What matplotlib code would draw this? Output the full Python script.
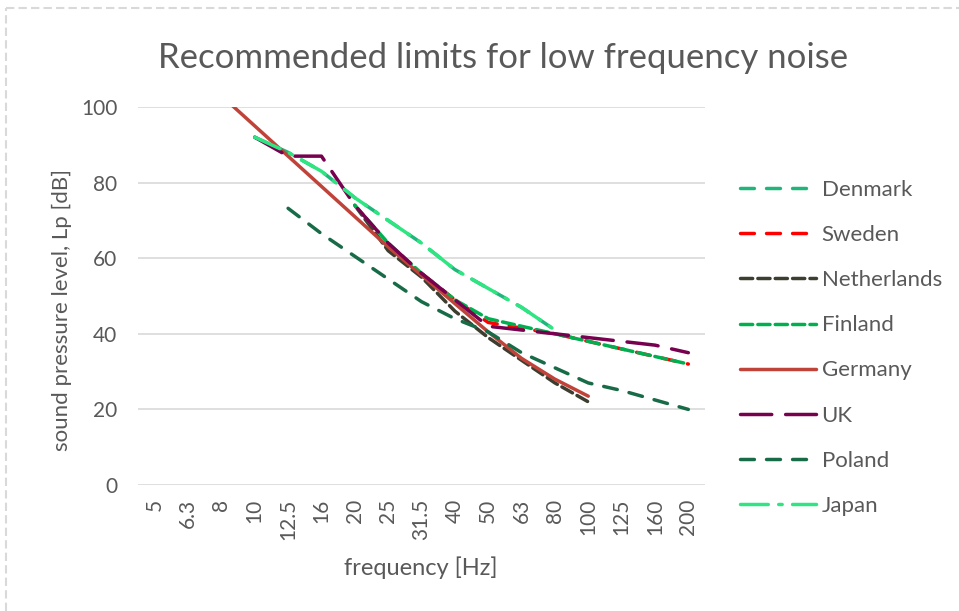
import numpy as np
import matplotlib
matplotlib.use("Agg")
import matplotlib.pyplot as plt
from matplotlib.lines import Line2D

nan = np.nan
freqs = ["5", "6.3", "8", "10", "12.5", "16", "20", "25", "31.5", "40",
         "50", "63", "80", "100", "125", "160", "200"]

#          5    6.3  8    10   12.5 16   20   25   31.5 40   50   63   80   100  125  160  200
denmark = [nan, nan, nan, 92,  88,  83,  76,  70,  64,  57,  52,  47,  41,  nan, nan, nan, nan]
sweden = [nan, nan, nan, nan, nan, nan, nan, nan, 56,  49,  43,  41.5, 40, 38,  36,  34,  32]
netherlands = [nan, nan, nan, nan, nan, nan, 74, 62,  55,  46,  39,  33,  27,  22,  nan, nan, nan]
finland = [nan, nan, nan, nan, nan, nan, 74,  64,  56,  49,  44,  42,  40,  38,  36,  34,  32]
germany = [nan, nan, 103, 95,  87,  79,  71,  63,  55.5, 48, 40.5, 33.5, 28, 23.5, nan, nan, nan]
uk = [nan, nan, nan, 92,  87,  87,  74,  64,  56,  49,  42,  41,  40,  39,  38,  37,  35]
poland = [nan, nan, nan, nan, 73.2, 66.5, 60.5, 54.5, 48.5, 44, 40.5, 35, 31, 27, 25, 22.5, 20]
japan = [nan, nan, nan, 92,  88,  83,  76,  70,  64,  57,  52,  47,  41,  nan, nan, nan, nan]

names = ["Denmark", "Sweden", "Netherlands", "Finland", "Germany", "UK", "Poland", "Japan"]
series = [denmark, sweden, netherlands, finland, germany, uk, poland, japan]
colors = ["#1FB67B", "#FF0000", "#3D3D30", "#00B050", "#C0433A", "#77004F", "#186B47", "#2EE582"]
dashes = [(4, 3.5), (4, 3.5), (3.5, 1.5), (3.5, 1.5), None, (9, 4), (4, 3.5), (8, 3, 1, 3)]

plt.rcParams['font.family'] = ['Lato', 'DejaVu Sans']
txt = "#595959"

fig = plt.figure(figsize=(9.59, 6.11), dpi=100)
ax = fig.add_axes([138 / 959, 1 - 485 / 611, (705 - 138) / 959, (485 - 107) / 611])

x = np.arange(len(freqs))
lw = 2.5
for name, ys, c, d in zip(names, series, colors, dashes):
    if d is None:
        ax.plot(x, ys, color=c, lw=lw, solid_capstyle='round', label=name)
    else:
        ax.plot(x, ys, color=c, lw=lw, dashes=d, dash_capstyle='round', label=name)

ax.set_xlim(-0.5, len(freqs) - 0.5)
ax.set_ylim(0, 100)
ax.set_yticks(range(0, 101, 20))
ax.set_xticks(x)
ax.set_xticklabels(freqs, rotation=90)
ax.grid(axis='y', color='#D9D9D9', lw=1.2)
ax.set_axisbelow(True)
for s in ax.spines.values():
    s.set_visible(False)
ax.tick_params(length=0, labelsize=15, colors=txt)
ax.tick_params(axis='y', pad=15)
ax.tick_params(axis='x', pad=10)

ax.set_xlabel("frequency [Hz]", fontsize=17, color=txt)
ax.set_ylabel("sound pressure level, Lp [dB]", fontsize=16, color=txt)
ax.xaxis.set_label_coords(0.499, -0.19)
ax.yaxis.set_label_coords(-0.116, 0.463)
fig.text(0.525, 1 - 58 / 611, "Recommended limits for low frequency noise",
         ha='center', va='center', fontsize=25, color=txt)

handles = []
for name, c, d in zip(names, colors, dashes):
    if d is None:
        handles.append(Line2D([], [], color=c, lw=lw, solid_capstyle='round'))
    else:
        handles.append(Line2D([], [], color=c, lw=lw, dashes=d, dash_capstyle='round'))
leg = fig.legend(handles, names, loc='upper left', bbox_to_anchor=(720 / 959, 1 - 160 / 611),
                 frameon=False, fontsize=16, handlelength=3.4, handletextpad=0.27,
                 labelspacing=1.13, labelcolor=txt)

# dashed chart border (top and left)
fig.add_artist(Line2D([6 / 959, 1], [1 - 8 / 611, 1 - 8 / 611], color='#D9D9D9', lw=1.5,
                      dashes=(4, 2), transform=fig.transFigure))
fig.add_artist(Line2D([6 / 959, 6 / 959], [0, 1 - 8 / 611], color='#D9D9D9', lw=1.5,
                      dashes=(4, 2), transform=fig.transFigure))

fig.savefig("out.png", dpi=100)
